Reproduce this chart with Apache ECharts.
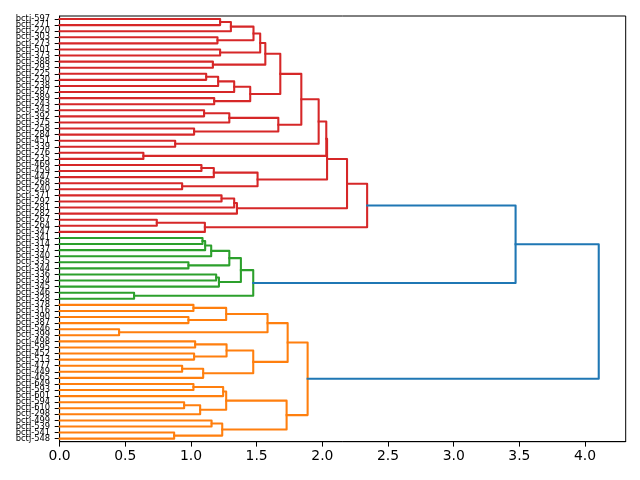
<!DOCTYPE html>
<html><head><meta charset="utf-8">
<script src="https://cdn.jsdelivr.net/npm/echarts@6/dist/echarts.min.js"></script>
<style>html,body{margin:0;padding:0;background:#fff}#c{width:640px;height:480px}</style>
</head><body><div id="c"></div>
<script>
// Leaf labels, top to bottom
const leafLabels = [
  'bctj-597','bctj-271','bctj-220','bctj-303','bctj-273','bctj-501','bctj-373','bctj-388','bctj-293','bctj-225',
  'bctj-230','bctj-238','bctj-287','bctj-389','bctj-243','bctj-343','bctj-392','bctj-375','bctj-258','bctj-284',
  'bctj-451','bctj-339','bctj-276','bctj-235','bctj-469','bctj-459','bctj-447','bctj-268','bctj-240','bctj-371',
  'bctj-292','bctj-281','bctj-282','bctj-267','bctj-264','bctj-347','bctj-341','bctj-314','bctj-337','bctj-340',
  'bctj-335','bctj-344','bctj-336','bctj-334','bctj-345','bctj-346','bctj-328','bctj-378','bctj-316','bctj-390',
  'bctj-387','bctj-546','bctj-399','bctj-498','bctj-595','bctj-452','bctj-513','bctj-477','bctj-449','bctj-465',
  'bctj-649','bctj-593','bctj-601','bctj-594','bctj-610','bctj-298','bctj-499','bctj-539','bctj-541','bctj-548'
];
// Linkage: [left child, right child, merge height]; ids < 70 are leaves, id 70+k is merge k
const linkage = [
  [0,1,1.222],[70,2,1.304],[3,4,1.202],[71,72,1.476],[5,6,1.222],[73,74,1.527],[7,8,1.167],[75,76,1.566],
  [9,10,1.116],[78,11,1.207],[79,12,1.329],[13,14,1.177],[80,81,1.451],[77,82,1.680],[15,16,1.100],[84,17,1.292],
  [18,19,1.024],[85,86,1.665],[83,87,1.840],[20,21,0.880],[88,89,1.972],[22,23,0.638],[90,91,2.030],[24,25,1.080],
  [93,26,1.174],[27,28,0.933],[94,95,1.507],[92,96,2.036],[29,30,1.233],[98,31,1.329],[99,32,1.350],[97,100,2.188],
  [33,34,0.740],[102,35,1.106],[101,103,2.341],
  [36,37,1.088],[105,38,1.108],[106,39,1.154],[40,41,0.981],[107,108,1.292],[42,43,1.192],[110,44,1.213],
  [109,111,1.380],[45,46,0.567],[112,113,1.474],
  [104,114,3.471],
  [47,48,1.019],[49,50,0.981],[116,117,1.268],[51,52,0.453],[118,119,1.583],[53,54,1.032],[55,56,1.024],
  [121,122,1.271],[57,58,0.933],[124,59,1.093],[123,125,1.474],[120,126,1.736],[60,61,1.019],[128,62,1.245],
  [63,64,0.948],[130,65,1.070],[129,131,1.268],[66,67,1.157],[68,69,0.872],[133,134,1.238],[132,135,1.728],
  [127,136,1.888],
  [115,137,4.104]
];
const xTickValues = [0, 0.5, 1, 1.5, 2, 2.5, 3, 3.5, 4];
const xTickLabels = ['0.0','0.5','1.0','1.5','2.0','2.5','3.0','3.5','4.0'];
const clusterPalette = ['#ff7f0e', '#2ca02c', '#d62728', '#9467bd', '#8c564b'];
const aboveColor = '#1f77b4';

const n = leafLabels.length;
const pos = [], hgt = [], kids = {};
for (let i = 0; i < n; i++) { pos[i] = 5 + 10 * i; hgt[i] = 0; }
const parent = {};
linkage.forEach((m, k) => {
  const id = n + k;
  pos[id] = (pos[m[0]] + pos[m[1]]) / 2;
  hgt[id] = m[2];
  kids[id] = [m[0], m[1]];
  parent[m[0]] = id; parent[m[1]] = id;
});
const maxH = Math.max(...linkage.map(m => m[2]));
const thr = 0.7 * maxH;
const roots = [];
linkage.forEach((m, k) => {
  const id = n + k;
  if (hgt[id] <= thr && (parent[id] === undefined || hgt[parent[id]] > thr)) roots.push(id);
});
roots.sort((a, b) => pos[b] - pos[a]);
const colorOf = {};
function paint(id, c) { if (id < n) return; colorOf[id] = c; paint(kids[id][0], c); paint(kids[id][1], c); }
roots.forEach((r, i) => paint(r, clusterPalette[i % clusterPalette.length]));

const links = linkage.map((m, k) => [hgt[m[0]], pos[m[0]], m[2], pos[m[1]], hgt[m[1]]]);
const linkColors = linkage.map((m, k) => colorOf[n + k] || aboveColor);

const chart = echarts.init(document.getElementById('c'), null, {renderer: 'canvas'});
const font = 'DejaVu Sans';
chart.setOption({
  animation: false,
  backgroundColor: '#fff',
  grid: {left: 59.6, right: 14.3, top: 16, bottom: 38.3, show: true, borderColor: '#000', borderWidth: 1, containLabel: false},
  xAxis: {
    type: 'value', min: 0, max: maxH * 1.05,
    axisLine: {show: true, onZero: false, lineStyle: {color: '#000', width: 1}},
    axisTick: {show: true, length: 4.9, lineStyle: {color: '#000', width: 1}, customValues: xTickValues},
    axisLabel: {color: '#000', fontFamily: font, fontSize: 13.9, margin: 8,
      customValues: xTickValues,
      formatter: v => { const i = xTickValues.findIndex(t => Math.abs(t - v) < 1e-9); return i >= 0 ? xTickLabels[i] : ''; }},
    splitLine: {show: false}
  },
  yAxis: [{
    type: 'category', data: leafLabels, inverse: true, boundaryGap: true,
    axisLine: {show: true, lineStyle: {color: '#000', width: 1}},
    axisTick: {show: true, alignWithLabel: true, interval: 0, length: 4.9, lineStyle: {color: '#000', width: 1}},
    axisLabel: {interval: 0, color: '#000', fontFamily: font, fontSize: 8.33, margin: 9.5},
    splitLine: {show: false}
  }, {
    type: 'value', min: 0, max: 10 * n, inverse: true, show: false
  }],
  series: [{
    type: 'custom', xAxisIndex: 0, yAxisIndex: 1, clip: false,
    encode: {x: [0, 2, 4], y: [1, 3]},
    data: links,
    renderItem: (params, api) => {
      const p = [
        api.coord([api.value(0), api.value(1)]),
        api.coord([api.value(2), api.value(1)]),
        api.coord([api.value(2), api.value(3)]),
        api.coord([api.value(4), api.value(3)])
      ];
      return {type: 'polyline', shape: {points: p},
        style: {stroke: linkColors[params.dataIndex], lineWidth: 2.08, fill: null, lineJoin: 'round', lineCap: 'square'}};
    }
  }]
});
</script></body></html>
